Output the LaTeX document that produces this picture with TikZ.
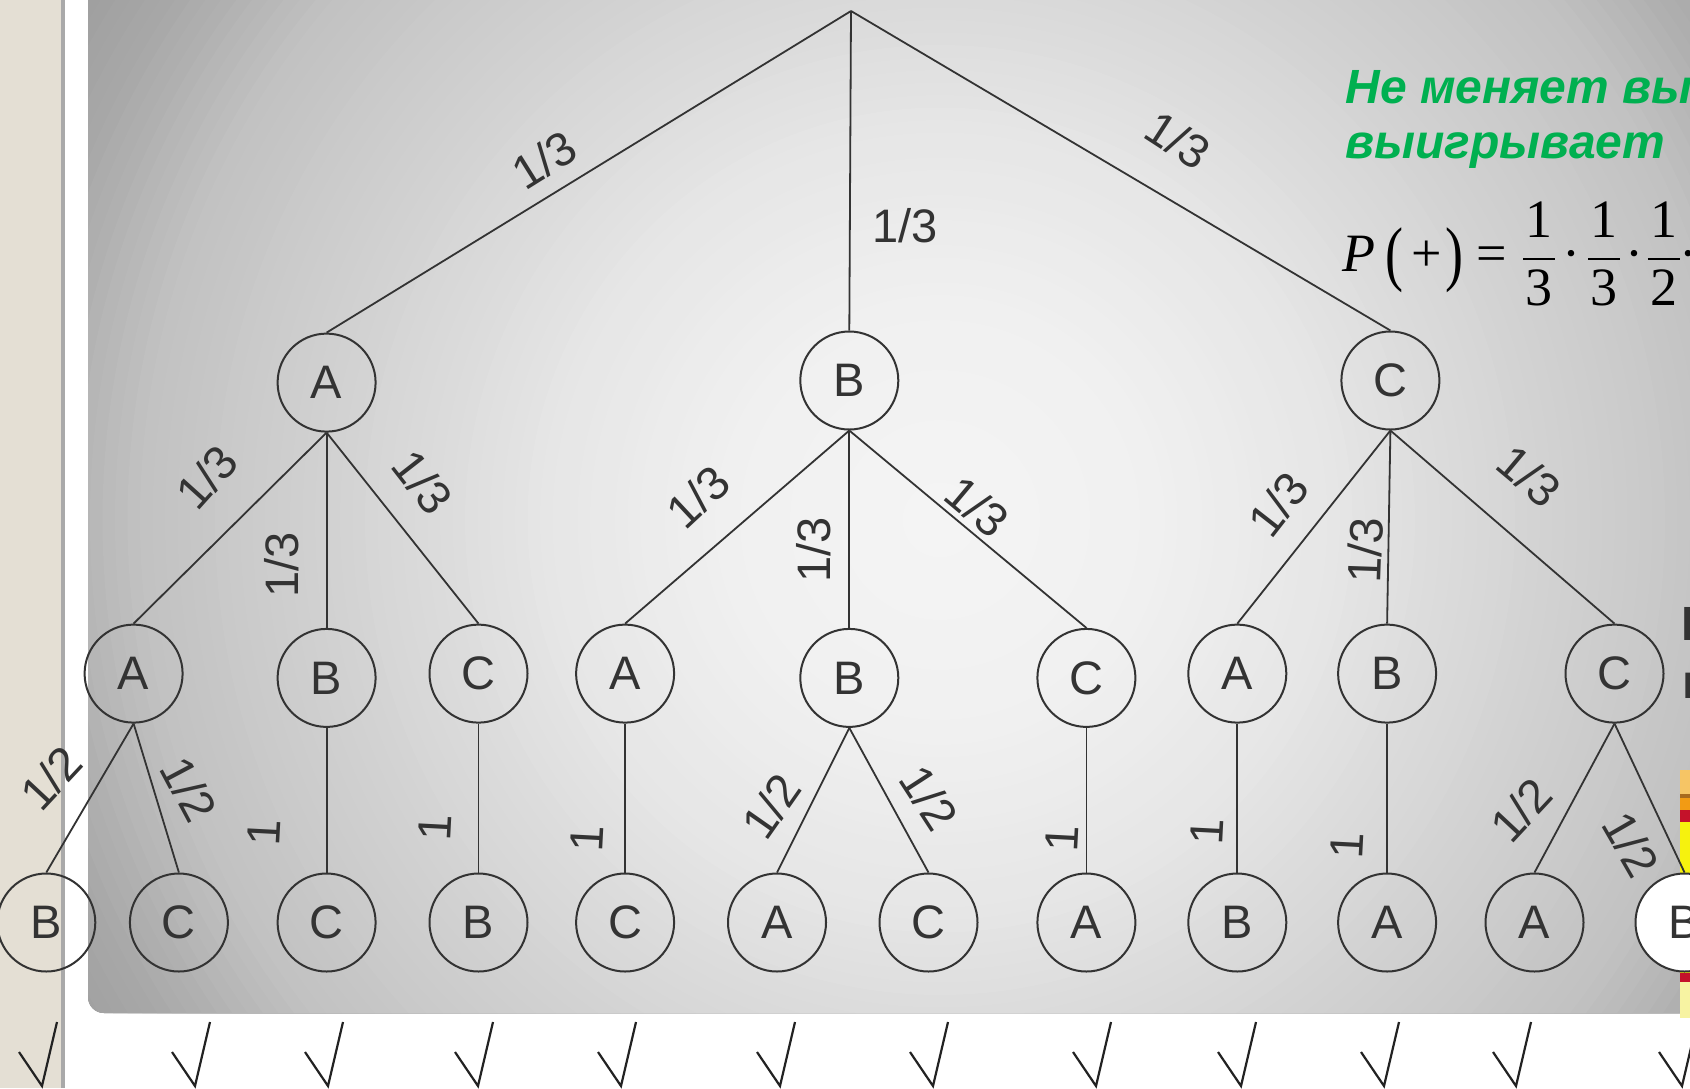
\documentclass[tikz,border=0pt]{standalone}
\usepackage{amsmath}
\usepackage{fontspec}
\setmainfont{Liberation Sans}
\newfontfamily\tnr{Liberation Serif}

\definecolor{inkgray}{HTML}{333333}
\definecolor{tickgray}{HTML}{222222}
\definecolor{slidegreen}{HTML}{00B050}
\definecolor{sidebeige}{HTML}{E4DFD4}
\definecolor{sideedge}{HTML}{A9A9A9}
\definecolor{glowout}{HTML}{A0A0A0}
\definecolor{stripA}{HTML}{F6C565}
\definecolor{stripB}{HTML}{A86A1E}
\definecolor{stripC}{HTML}{F29B14}
\definecolor{stripD}{HTML}{C4122A}
\definecolor{stripE}{HTML}{F6F20E}
\definecolor{stripF}{HTML}{F7F3A2}

\newcommand{\treefont}{\fontsize{23.5pt}{28pt}\selectfont}
\newcommand{\headfont}{\fontsize{24pt}{29pt}\selectfont\bfseries\itshape}
\newcommand{\frmlfont}{\tnr\fontsize{27pt}{32pt}\selectfont}
\newcommand{\probfrac}[2]{\genfrac{}{}{1pt}{0}{\makebox[16pt]{#1}}{\makebox[16pt]{#2}}}
\newcommand{\tallpar}[1]{\raisebox{-3pt}{\scalebox{1}[1.33]{#1}}}

\begin{document}
\begin{tikzpicture}[x=0.5pt, y=-0.5pt,
  vtx/.style={circle, draw=inkgray, line width=1pt, minimum size=49pt, inner sep=0pt, text=inkgray, font=\treefont},
  branch/.style={draw=inkgray, line width=0.9pt},
  plbl/.style={text=inkgray, font=\treefont, inner sep=0pt},
  checkmk/.style={draw=tickgray, line width=1.1pt}]
\useasboundingbox (0,0) rectangle (1690,1088);
\clip (0,0) rectangle (1690,1088);
\fill[white] (0,0) rectangle (1690,1088);

% slide background
\fill[sidebeige] (0,0) rectangle (62,1088);
\fill[sideedge] (61,0) rectangle (65,1088);
\begin{scope}
\clip[rounded corners=8pt] (88,-40) rectangle (1760,1013);
\fill[glowout] (88,-40) rectangle (1760,1013);
% light spot, ring by ring
\foreach \i in {0,...,79} {
  \pgfmathsetmacro\f{1-\i/80}
  \pgfmathsetmacro\g{\f<0.2 ? 0.957-0.06*\f : (\f<0.4 ? 0.945-0.215*(\f-0.2) : (\f<0.5 ? 0.902-0.39*(\f-0.4) : (\f<0.8 ? 0.863-0.34*(\f-0.5) : (\f<0.93 ? 0.761-0.785*(\f-0.8) : 0.659-0.457*(\f-0.93)))))}
  \definecolor{ringc}{gray}{\g}
  \fill[ringc] (940,520) circle[radius=\f*500pt];
}
\end{scope}
\fill[stripA] (1680,770) rectangle (1690,794);
\fill[stripB] (1680,794) rectangle (1690,798);
\fill[stripC] (1680,798) rectangle (1690,810);
\fill[stripD] (1680,810) rectangle (1690,822);
\fill[stripE] (1680,822) rectangle (1690,973);
\fill[stripD] (1680,973) rectangle (1690,982);
\fill[stripF] (1680,982) rectangle (1690,1018);

% heading and formula
\node[anchor=base west, inner sep=0pt, font=\headfont, text=slidegreen] (head1) at (1345,103) {Не меняет вы};
\node[anchor=base west, inner sep=0pt, font=\headfont, text=slidegreen] (head2) at (1345,158) {выигрывает};
\node[anchor=base west, inner sep=0pt, font=\frmlfont, text=black] (pplus) at (1342,271)
  {\textit{P}\hspace{5pt}\tallpar{(}\hspace{4pt}+\hspace{1.8pt}\tallpar{)}\hspace{6.5pt}=\hspace{7pt}$\probfrac{1}{3}$\hspace{2.5pt}·\hspace{2.5pt}$\probfrac{1}{3}$\hspace{1.5pt}·\hspace{1pt}$\probfrac{1}{2}$\hspace{-1.5pt}·};
\node[anchor=base west, inner sep=0pt, font=\headfont\upshape, text=inkgray] (side1) at (1681,640) {М};
\node[anchor=base west, inner sep=0pt, font=\headfont\upshape, text=inkgray] (side2) at (1682,698) {п};

% tree
\coordinate (root) at (851,11);
\node[vtx] (a) at (326.6,382.6) {A};
\node[vtx] (b) at (849.3,380.5) {B};
\node[vtx] (c) at (1390.4,380.5) {C};
\node[vtx] (aa) at (133.6,673.6) {A};
\node[vtx] (ab) at (326.6,677.9) {B};
\node[vtx] (ac) at (478.5,673.6) {C};
\node[vtx] (ba) at (625.1,673.6) {A};
\node[vtx] (bb) at (849.3,677.9) {B};
\node[vtx] (bc) at (1086.4,677.9) {C};
\node[vtx] (ca) at (1237.3,673.6) {A};
\node[vtx] (cb) at (1387.1,673.6) {B};
\node[vtx] (cc) at (1614.5,673.6) {C};
\node[vtx] (aab) at (46.3,922.5) {B};
\node[vtx] (aac) at (178.9,922.5) {C};
\node[vtx] (abc) at (326.6,922.5) {C};
\node[vtx] (acb) at (478.5,922.5) {B};
\node[vtx] (bac) at (625.1,922.5) {C};
\node[vtx] (bba) at (777,922.5) {A};
\node[vtx] (bbc) at (928.5,922.5) {C};
\node[vtx] (bca) at (1086.4,922.5) {A};
\node[vtx] (cab) at (1237.3,922.5) {B};
\node[vtx] (cba) at (1387.1,922.5) {A};
\node[vtx] (cca) at (1534.5,922.5) {A};
\node[vtx, fill=white] (ccb) at (1684.5,922.5) {B};

\draw[branch] (root) -- (a.north) (root) -- (b.north) (root) -- (c.north);
\foreach \p/\q in {a/aa,a/ab,a/ac,b/ba,b/bb,b/bc,c/ca,c/cb,c/cc,
                   aa/aab,aa/aac,ab/abc,ac/acb,ba/bac,bb/bba,bb/bbc,
                   bc/bca,ca/cab,cb/cba,cc/cca,cc/ccb}
  \draw[branch] (\p.south) -- (\q.north);

% probabilities
\node[plbl, rotate=32] (p-a) at (544,160) {1/3};
\node[plbl] (p-b) at (905,226) {1/3};
\node[plbl, rotate=-33] (p-c) at (1178,140) {1/3};
\node[plbl, rotate=48] (p-aa) at (207,477) {1/3};
\node[plbl, rotate=90] (p-ab) at (282,565) {1/3};
\node[plbl, rotate=-52] (p-ac) at (422.5,482) {1/3};
\node[plbl, rotate=43] (p-ba) at (698,497) {1/3};
\node[plbl, rotate=90] (p-bb) at (814,550) {1/3};
\node[plbl, rotate=-40] (p-bc) at (977.6,506.6) {1/3};
\node[plbl, rotate=52] (p-ca) at (1278,504) {1/3};
\node[plbl, rotate=88] (p-cb) at (1365,550) {1/3};
\node[plbl, rotate=-40] (p-cc) at (1529,476) {1/3};
\node[plbl, rotate=47] (p-aab) at (51,778) {1/2};
\node[plbl, rotate=-62] (p-aac) at (189,789) {1/2};
\node[plbl, rotate=87] (p-abc) at (264,833) {1};
\node[plbl, rotate=87] (p-acb) at (435,828) {1};
\node[plbl, rotate=87] (p-bac) at (587,839) {1};
\node[plbl, rotate=55] (p-bba) at (771,806) {1/2};
\node[plbl, rotate=-57] (p-bbc) at (929,798) {1/2};
\node[plbl, rotate=87] (p-bca) at (1062,839) {1};
\node[plbl, rotate=87] (p-cab) at (1207,832) {1};
\node[plbl, rotate=87] (p-cba) at (1347,846) {1};
\node[plbl, rotate=47] (p-cca) at (1521,810) {1/2};
\node[plbl, rotate=-60] (p-ccb) at (1631,844) {1/2};

% ticks under the outcomes
\foreach \x in {42,195,328,478,621,780,933,1096,1241,1384,1516,1682}
  \draw[checkmk] (\x-23,1052) -- (\x,1086) -- (\x+15,1022);
\end{tikzpicture}
\end{document}
